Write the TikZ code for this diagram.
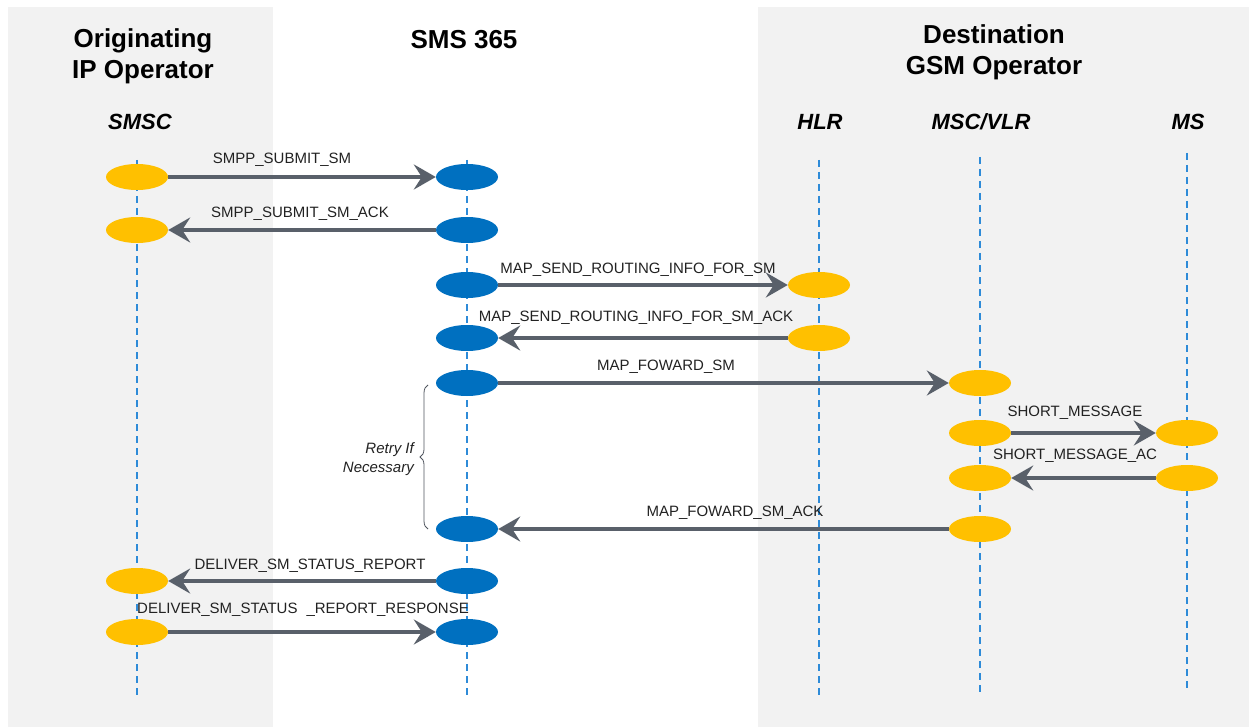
\documentclass[tikz,border=0pt]{standalone}
\usepackage{fontspec}
\setmainfont{Liberation Sans}
\usetikzlibrary{arrows.meta,decorations.pathreplacing,shapes.geometric}
\definecolor{panel}{HTML}{F2F2F2}
\definecolor{lifeblue}{HTML}{2E8BD8}
\definecolor{yel}{HTML}{FFC000}
\definecolor{blu}{HTML}{0070C0}
\definecolor{arr}{HTML}{59606A}
\definecolor{txt}{HTML}{222222}
\tikzset{
  head/.style={font=\fontsize{26}{31}\selectfont\bfseries, align=center, text=black, inner sep=0},
  actor/.style={font=\fontsize{22}{26}\selectfont\bfseries\itshape, text=black, inner sep=0},
  msgl/.style={font=\fontsize{15}{17}\selectfont, text=txt, inner sep=0},
  life/.style={draw=lifeblue, line width=2pt, dash pattern=on 7pt off 5pt},
  yev/.style={ellipse, fill=yel, minimum width=62pt, minimum height=26pt, inner sep=0},
  bev/.style={ellipse, fill=blu, minimum width=62pt, minimum height=26pt, inner sep=0},
  msg/.style={draw=arr, line width=4pt, -{Stealth[length=22pt,width=25pt,inset=8pt]}},
  retry/.style={font=\fontsize{15}{19}\selectfont\itshape, text=txt, align=right, inner sep=0},
}
\begin{document}
\begin{tikzpicture}[x=1pt,y=-1pt]
\useasboundingbox (0,0) rectangle (1249,727);
\fill[white] (0,0) rectangle (1249,727);
\fill[panel] (8,7) rectangle (273,727);
\fill[panel] (758,7) rectangle (1249,727);

% headers
\node[head] (hOrig) at (143,56) {Originating\\IP Operator};
\node[head] (hSMS) at (464,40) {SMS 365};
\node[head] (hDest) at (994,52) {Destination\\GSM Operator};

\node[actor] (nSMSC) at (140,122) {SMSC};
\node[actor] (nHLR) at (820,122) {HLR};
\node[actor] (nMSC) at (981,122) {MSC/VLR};
\node[actor] (nMS) at (1188,122) {MS};

% lifelines
\coordinate (l1t) at (137,160); \coordinate (l1b) at (137,695);
\coordinate (l2t) at (467,160); \coordinate (l2b) at (467,695);
\coordinate (l3t) at (819,160); \coordinate (l3b) at (819,695);
\coordinate (l4t) at (980,157); \coordinate (l4b) at (980,695);
\coordinate (l5t) at (1187,153); \coordinate (l5b) at (1187,690);
\draw[life] (l1t) -- (l1b);
\draw[life] (l2t) -- (l2b);
\draw[life] (l3t) -- (l3b);
\draw[life] (l4t) -- (l4b);
\draw[life] (l5t) -- (l5b);

% activation points
\node[yev] (a1) at (137,177) {};  \node[bev] (b1) at (467,177) {};
\node[yev] (a2) at (137,230) {};  \node[bev] (b2) at (467,230) {};
\node[bev] (b3) at (467,285) {};  \node[yev] (h3) at (819,285) {};
\node[bev] (b4) at (467,338) {};  \node[yev] (h4) at (819,338) {};
\node[bev] (b5) at (467,383) {};  \node[yev] (m5) at (980,383) {};
\node[yev] (m6) at (980,433) {};  \node[yev] (p6) at (1187,433) {};
\node[yev] (m7) at (980,478) {};  \node[yev] (p7) at (1187,478) {};
\node[bev] (b8) at (467,529) {};  \node[yev] (m8) at (980,529) {};
\node[yev] (a9) at (137,581) {};  \node[bev] (b9) at (467,581) {};
\node[yev] (a10) at (137,632) {}; \node[bev] (b10) at (467,632) {};

% messages
\draw[msg] (a1.east) -- (b1.west);
\draw[msg] (b2.west) -- (a2.east);
\draw[msg] (b3.east) -- (h3.west);
\draw[msg] (h4.west) -- (b4.east);
\draw[msg] (b5.east) -- (m5.west);
\draw[msg] (m6.east) -- (p6.west);
\draw[msg] (p7.west) -- (m7.east);
\draw[msg] (m8.west) -- (b8.east);
\draw[msg] (b9.west) -- (a9.east);
\draw[msg] (a10.east) -- (b10.west);

% labels
\node[msgl] (t1) at (282,160) {SMPP\_SUBMIT\_SM};
\node[msgl] (t2) at (300,214) {SMPP\_SUBMIT\_SM\_ACK};
\node[msgl] (t3) at (638,270) {MAP\_SEND\_ROUTING\_INFO\_FOR\_SM};
\node[msgl] (t4) at (636,318) {MAP\_SEND\_ROUTING\_INFO\_FOR\_SM\_ACK};
\node[msgl] (t5) at (666,367) {MAP\_FOWARD\_SM};
\node[msgl] (t6) at (1075,413) {SHORT\_MESSAGE};
\node[msgl] (t7) at (1075,456) {SHORT\_MESSAGE\_AC};
\node[msgl] (t8) at (735,513) {MAP\_FOWARD\_SM\_ACK};
\node[msgl] (t9) at (310,566) {DELIVER\_SM\_STATUS\_REPORT};
\node[msgl] (t10) at (303,610) {DELIVER\_SM\_STATUS\hspace{9pt}\_REPORT\_RESPONSE};

% retry brace
\coordinate (brB) at (428,529);
\coordinate (brT) at (428,385);
\draw[draw=arr!90!black, line width=0.8pt, decorate, decoration={brace, amplitude=8pt}] (brB) -- (brT);
\node[retry, anchor=east] (retry) at (414,459) {Retry If\\Necessary};
\end{tikzpicture}
\end{document}
